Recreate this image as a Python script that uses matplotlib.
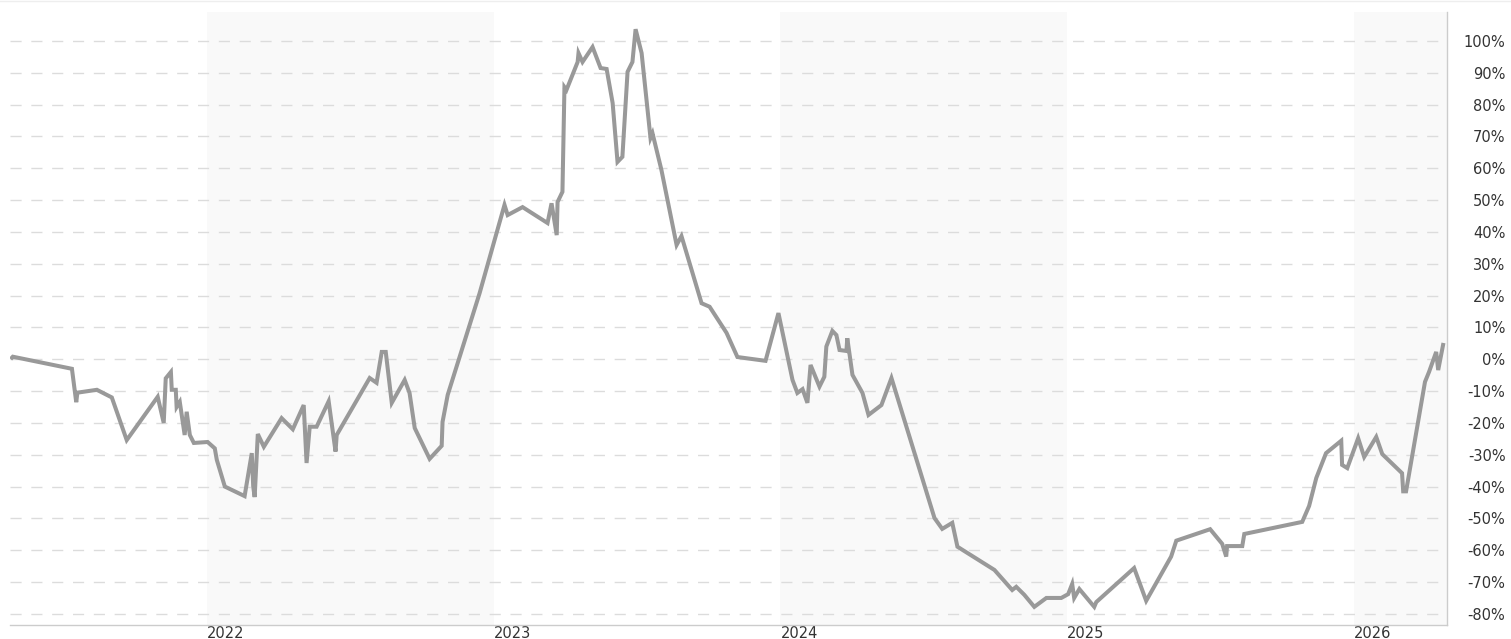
import matplotlib
matplotlib.use("Agg")
import matplotlib.pyplot as plt

# decimal-year positions and percent change values
years = [2021.321, 2021.324, 2021.530, 2021.545, 2021.549, 2021.617, 2021.669, 2021.721,
         2021.829, 2021.850, 2021.857, 2021.875, 2021.878, 2021.892, 2021.895, 2021.906,
         2021.923, 2021.930, 2021.941, 2021.955, 2022.003, 2022.028, 2022.035, 2022.063,
         2022.132, 2022.157, 2022.162, 2022.167, 2022.178, 2022.199, 2022.261, 2022.300,
         2022.338, 2022.348, 2022.359, 2022.383, 2022.425, 2022.449, 2022.453, 2022.568,
         2022.592, 2022.610, 2022.624, 2022.645, 2022.690, 2022.707, 2022.725, 2022.777,
         2022.819, 2022.822, 2022.840, 2022.951, 2023.038, 2023.049, 2023.101, 2023.188,
         2023.202, 2023.220, 2023.223, 2023.240, 2023.247, 2023.254, 2023.293, 2023.296,
         2023.310, 2023.345, 2023.373, 2023.394, 2023.415, 2023.432, 2023.449, 2023.467,
         2023.484, 2023.495, 2023.516, 2023.533, 2023.544, 2023.547, 2023.554, 2023.585,
         2023.638, 2023.655, 2023.725, 2023.753, 2023.812, 2023.850, 2023.948, 2023.993,
         2024.042, 2024.059, 2024.077, 2024.094, 2024.105, 2024.136, 2024.153, 2024.160,
         2024.181, 2024.195, 2024.206, 2024.230, 2024.233, 2024.251, 2024.286, 2024.307,
         2024.352, 2024.387, 2024.537, 2024.564, 2024.599, 2024.617, 2024.746, 2024.808,
         2024.822, 2024.850, 2024.885, 2024.927, 2024.979, 2025.003, 2025.017, 2025.024,
         2025.042, 2025.094, 2025.101, 2025.233, 2025.275, 2025.362, 2025.380, 2025.498,
         2025.540, 2025.554, 2025.557, 2025.610, 2025.617, 2025.819, 2025.843, 2025.868,
         2025.902, 2025.955, 2025.958, 2025.976, 2026.014, 2026.035, 2026.077, 2026.098,
         2026.167, 2026.171, 2026.181, 2026.247, 2026.261, 2026.286, 2026.293, 2026.310]
values = [0.5, 0.8, -3.0, -13.5, -10.5, -9.6, -12.0, -25.4,
          -11.8, -20.0, -6.0, -4.0, -9.6, -9.6, -15.0, -13.4,
          -23.8, -16.5, -23.8, -26.3, -26.0, -28.0, -31.6, -40.0,
          -43.0, -29.5, -40.0, -43.3, -23.5, -27.5, -18.5, -22.0,
          -14.4, -32.6, -21.2, -21.2, -13.2, -29.0, -23.8, -5.9,
          -7.4, 2.3, 2.3, -13.7, -6.5, -10.6, -21.6, -31.3,
          -27.2, -19.7, -11.2, 20.7, 48.5, 45.3, 47.8, 42.8,
          49.0, 39.0, 49.4, 52.6, 85.5, 84.6, 93.4, 96.2,
          93.4, 98.1, 91.5, 91.2, 80.5, 62.0, 63.6, 90.3,
          93.4, 103.7, 96.2, 81.5, 72.0, 69.5, 71.0, 59.5,
          35.9, 38.7, 17.6, 16.5, 8.3, 0.7, -0.5, 14.5,
          -6.5, -10.6, -9.4, -13.7, -1.8, -8.6, -5.5, 4.0,
          8.9, 7.6, 2.9, 2.6, 6.6, -4.9, -10.6, -17.5,
          -14.4, -5.9, -49.9, -53.3, -51.4, -58.9, -66.2, -72.5,
          -71.5, -74.0, -77.8, -75.0, -75.0, -73.8, -70.6, -75.0,
          -72.2, -77.8, -76.3, -65.6, -75.9, -62.0, -57.0, -53.4,
          -58.0, -62.0, -58.7, -58.7, -54.9, -51.1, -46.1, -37.3,
          -29.5, -25.6, -33.2, -34.2, -24.8, -30.7, -24.4, -29.8,
          -35.8, -41.5, -41.5, -7.1, -4.0, 2.3, -3.4, 4.5]

tick_years = [2022, 2023, 2024, 2025, 2026]
tick_labels = ["2022", "2023", "2024", "2025", "2026"]
shaded_years = [2022, 2024, 2026]
y_ticks = list(range(-80, 101, 10))

plt.rcParams['lines.scale_dashes'] = False
fig = plt.figure(figsize=(15.11, 6.39), dpi=100)
ax = fig.add_axes([0.0066, 0.0219, 0.9511, 0.9593])

xmin, xmax = 2021.314, 2026.324
for y0 in shaded_years:
    ax.axvspan(y0, y0 + 1, color="#f9f9f9", zorder=0, lw=0)

for v in y_ticks:
    ax.axhline(v, color="#dcdcdc", lw=1.0, ls=(0, (8, 7)), zorder=1)

ax.plot(years, values, color="#999999", lw=2.9, zorder=3, solid_joinstyle="miter")

ax.set_xlim(xmin, xmax)
ax.set_ylim(-83.5, 109.1)

ax.yaxis.tick_right()
ax.set_yticks(y_ticks)
ax.set_yticklabels([f"{v}%" for v in y_ticks])
ax.tick_params(axis="y", length=0, pad=42, labelsize=10.5, labelcolor="#333333")
for lbl in ax.get_yticklabels():
    lbl.set_horizontalalignment("right")

ax.set_xticks(tick_years)
ax.set_xticklabels(tick_labels)
ax.tick_params(axis="x", length=0, pad=1, labelsize=10.5, labelcolor="#333333")
for lbl in ax.get_xticklabels():
    lbl.set_horizontalalignment("left")

for s in ["top", "left"]:
    ax.spines[s].set_visible(False)
ax.spines["right"].set_color("#cccccc")
ax.spines["bottom"].set_color("#cccccc")
ax.spines["right"].set_linewidth(1.0)
ax.spines["bottom"].set_linewidth(1.0)

fig.add_artist(plt.Line2D([0, 1], [0.998, 0.998], color="#eeeeee", lw=1, transform=fig.transFigure))

fig.savefig("out.png", dpi=100)
